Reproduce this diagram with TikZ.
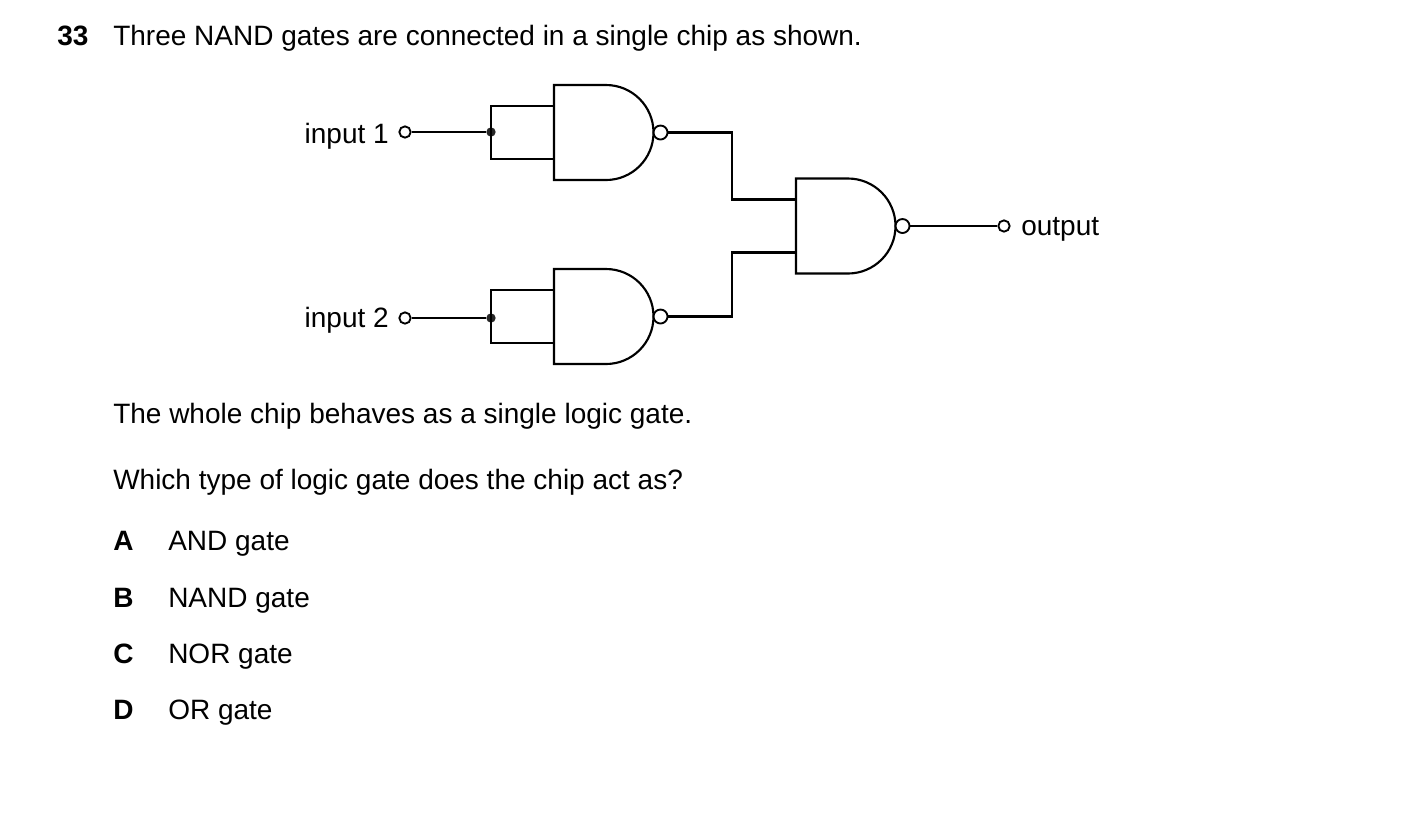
\documentclass[tikz,border=0pt]{standalone}
\usepackage{fontspec}
\setmainfont{Liberation Sans}
\begin{document}
\begin{tikzpicture}[x=0.75pt,y=-0.75pt,
  w/.style={line width=1.6pt},
  bub/.style={circle,draw,line width=1.4pt,inner sep=0pt,minimum size=10.5pt,fill=white},
  term/.style={circle,draw,line width=1.4pt,inner sep=0pt,minimum size=8.5pt},
  dot/.style={circle,fill=black!85,inner sep=0pt,minimum size=7pt},
  txt/.style={font=\fontsize{21pt}{25pt}\selectfont,anchor=base west,inner sep=0pt}]
\useasboundingbox (0,0) rectangle (1403,819);
\tikzset{nand/.pic={
  \draw[w] (0,-47.5) -- (52,-47.5) .. controls (78.2,-47.5) and (99.5,-26.2) .. (99.5,0)
     .. controls (99.5,26.2) and (78.2,47.5) .. (52,47.5) -- (0,47.5) -- cycle;
  \coordinate (-in1) at (0,-26.5);
  \coordinate (-in2) at (0,26.5);
  \node[bub] (-bub) at (106.5,0) {};
}}
\pic (g1) at (554,132.5) {nand};
\pic (g2) at (554,316.5) {nand};
\pic (g3) at (796,226) {nand};
\node[term] (i1) at (405,132) {};
\node[term] (i2) at (405,318) {};
\node[term] (o) at (1004,226) {};
\coordinate (j1a) at (491,106); \coordinate (j1b) at (491,159);
\coordinate (j2a) at (491,290); \coordinate (j2b) at (491,343);
\node[dot] (d1) at (491,132) {};
\node[dot] (d2) at (491,318) {};
\draw[w] (i1) -- (d1);
\draw[w] (i2) -- (d2);
\draw[w] (g1-in1) -- (j1a) -- (j1b) -- (g1-in2);
\draw[w] (g2-in1) -- (j2a) -- (j2b) -- (g2-in2);
\draw[w] (g1-bub) -- (732,132.5) -- (732,199.5) -- (g3-in1);
\draw[w] (g2-bub) -- (732,316.5) -- (732,252.5) -- (g3-in2);
\draw[w] (g3-bub) -- (o);
\node[txt,anchor=base east] at (389,143) {input 1};
\node[txt,anchor=base east] at (389,327) {input 2};
\node[txt] at (1021,235) {output};
\node[txt] at (57,45) {\bfseries 33};
\node[txt] at (113,45) {Three NAND gates are connected in a single chip as shown.};
\node[txt] at (113,423) {The whole chip behaves as a single logic gate.};
\node[txt] at (113,489) {Which type of logic gate does the chip act as?};
\node[txt] at (113,550) {\bfseries A}; \node[txt] at (168,550) {AND gate};
\node[txt] at (113,607) {\bfseries B}; \node[txt] at (168,607) {NAND gate};
\node[txt] at (113,663) {\bfseries C}; \node[txt] at (168,663) {NOR gate};
\node[txt] at (113,719) {\bfseries D}; \node[txt] at (168,719) {OR gate};
\end{tikzpicture}
\end{document}
